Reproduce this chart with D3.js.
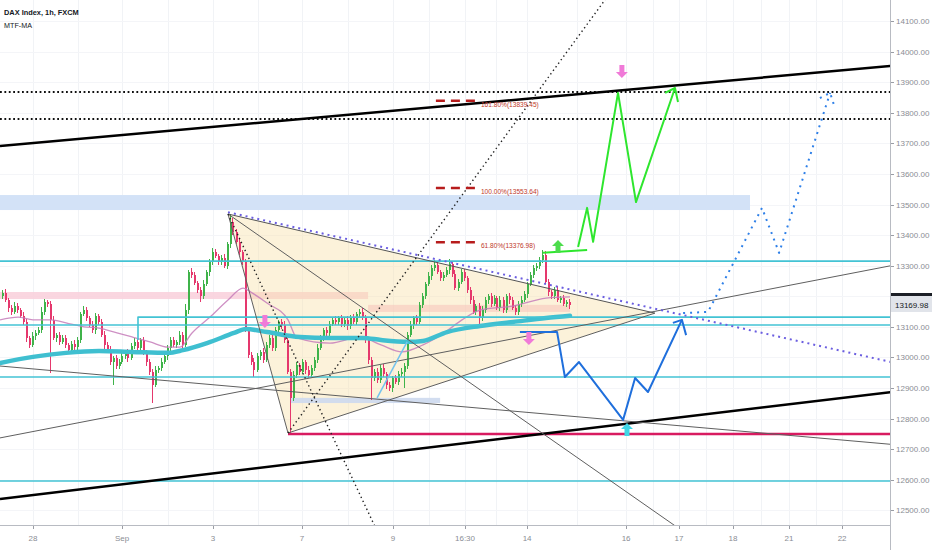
<!DOCTYPE html>
<html>
<head>
<meta charset="utf-8">
<script src="https://cdn.jsdelivr.net/npm/d3@7"></script>
<style>
body { margin: 0; background: #fff; }
text { font-family: "Liberation Sans", Arial, sans-serif; }
</style>
</head>
<body>
<div id="chart"></div>
<script>
// hourly candles, open = previous close
var firstOpen = 13201;
var closes = [13211,13188,13162,13149,13168,13155,13136,13116,13064,13041,
  13070,13080,13090,13149,13181,13175,13123,13064,13074,13051,
  13064,13041,13024,13044,13034,13057,13142,13155,13129,13106,
  13090,13136,13116,13074,13041,13024,12985,12998,12972,12985,
  13005,13018,12998,13038,13051,13031,13057,13018,12985,12953,
  12910,12959,12966,12985,13005,13031,13057,13041,13051,13074,
  13041,13155,13279,13270,13244,13221,13201,13240,13279,13312,
  13345,13332,13312,13325,13299,13371,13443,13410,13378,13345,
  13312,13090,13008,12985,12959,13005,13018,12992,13041,13064,
  13031,13090,13116,13106,13057,12953,12868,12943,12975,12953,
  12985,12959,12943,12966,12992,13031,13064,13090,13080,13109,
  13123,13116,13129,13109,13123,13103,13129,13116,13142,13149,
  13129,13057,12992,12933,12953,12926,12966,12946,12910,12900,
  12933,12920,12946,12953,12972,13074,13106,13129,13116,13172,
  13201,13240,13266,13293,13302,13279,13260,13270,13286,13306,
  13273,13227,13247,13279,13260,13221,13188,13149,13168,13129,
  13155,13188,13201,13175,13194,13162,13188,13155,13201,13188,
  13162,13149,13175,13188,13208,13240,13270,13293,13299,13319,
  13335,13247,13214,13201,13221,13188,13194,13175,13181,13170];
var wickUp = [8,12,6,10,14,9,7,11,10,6, 12,9,8,15,10,7,9,12,6,10,
  8,11,7,9,13,10,8,12,9,6, 14,10,7,9,11,8,12,6,10,9,
  13,7,10,8,12,9,6,11,8,10, 9,12,7,14,8,10,9,11,6,12,
  10,20,8,12,9,7,10,13,8,11, 12,9,7,10,14,8,26,12,9,10,
  7,11,8,9,12,10,7,13,9,8, 11,10,7,9,12,8,10,14,9,7,
  11,8,12,10,9,13,8,7,11,10, 9,12,8,10,7,11,9,13,8,10,
  12,9,7,10,8,11,9,12,7,10, 8,11,9,12,10,8,13,7,10,9,
  11,8,12,9,17,10,8,11,9,17, 10,12,8,9,11,7,10,13,8,9,
  12,10,8,11,9,7,12,10,8,9, 11,8,10,12,9,7,10,8,11,9,
  16,12,10,8,9,11,7,10,8,9];
var wickDn = [10,7,12,9,8,11,6,10,13,9, 8,12,7,10,9,11,174,8,12,10,
  7,9,11,8,10,12,9,7,11,8, 10,13,9,8,12,7,10,75,9,11,
  8,10,12,7,9,11,8,10,13,9, 59,8,11,10,7,12,9,8,10,11,
  9,8,12,10,7,11,20,9,8,12, 10,7,9,11,8,10,12,9,7,10,
  11,8,10,9,22,8,12,10,7,11, 9,10,8,12,9,7,115,10,9,11,
  8,12,10,7,9,11,8,10,12,9, 7,11,9,10,8,12,9,7,11,10,
  8,9,12,72,10,8,11,9,14,10, 12,8,9,11,53,10,8,12,9,7,
  11,10,8,12,9,7,10,11,8,12, 9,8,10,8,11,9,12,7,10,29,
  11,9,12,10,8,7,11,9,10,12, 8,10,9,11,7,12,8,10,9,11,
  10,8,12,9,11,7,10,8,9,10];
var lastPrice = 13169.98;

// moving averages [bar, price]
var maThick = [[0,12982],[11,13002],[22,13015],[33,13021],[44,13018],[56,13015],[61,13024],
  [69,13047],[78,13080],[82,13093],[89,13083],[100,13067],[110,13064],[121,13064],[127,13057],
  [136,13051],[141,13054],[149,13083],[160,13103],[171,13116],[182,13129],[190,13136]];
var maThin = [[0,13123],[6,13132],[11,13123],[17,13123],[22,13113],[28,13100],[33,13096],
  [39,13080],[44,13067],[50,13051],[56,13034],[60,13034],[64,13080],[70,13132],[76,13188],
  [81,13227],[84,13211],[89,13178],[96,13123],[99,13064],[110,13047],[120,13067],[127,13041],
  [134,13018],[141,13041],[148,13080],[154,13123],[160,13155],[171,13168],[182,13194],[190,13198]];

// axes
var timeTickBars = [11, 40.7, 71, 100.7, 131, 155, 175.7, 208.7, 226.3, 244.3, 263, 280.7];
var timeTickLabels = ["28", "Sep", "3", "7", "9", "16:30", "14", "16", "17", "18", "21", "22"];
var priceTicks = [12500,12600,12700,12800,12900,13000,13100,13200,13300,13400,13500,13600,13700,13800,13900,14000,14100];

// drawings [bar, price]
var trendUpper = [[0,13691],[297,13953]];
var trendLower = [[0,12537],[297,12887]];
var dottedLevels = [13868, 13780];
var dottedRayUp = [[96,12753],[203,14187]];
var dottedRayDown = [[76,13469],[126,12426]];
var grayLines = [[[76,13469],[226,12443]], [[0,12972],[297,12716]], [[0,12737],[297,13300]]];
var triangle = [[76,13469],[96,12753],[218.3,13145]];
var purpleDotted = [[76,13475],[297,12985]];
var cyanLevels = [13315, 13106, 12936, 12596];
var cyanPartial = [[46,13057],[46,13132],[297,13132]];
var redLevel = [[96,12750],[297,12750]];
var blueBand = [0, 250, 13482, 13531];
var pinkBand = [0, 122.7, 13191, 13214];
var salmonBand = [122.7, 190, 13149, 13172];
var greyBand = [96.7, 146.7, 12851, 12868];
var fibLevels = [13839.45, 13553.64, 13376.98];
var fibLabels = ["161.80%(13839.45)", "100.00%(13553.64)", "61.80%(13376.98)"];
var fibBars = [145.3, 159.3];
var lightBlueLeg = [[125.7,12868],[135.7,13051]];
var greenHold = [[181,13342],[195.7,13351]];
var greenPath = [[192.7,13361],[195.7,13489],[197.7,13378],[206,13865],[212,13508],[225,13881]];
var greenHead = [[221.7,13865],[225,13881],[226,13835]];
var bluePath = [[173.3,13083],[185.7,13083],[188.3,12936],[193,12985],[207.7,12796],[211.7,12933],[216,12887],[227.3,13123]];
var blueHead = [[224.3,13113],[227.3,13123],[228.7,13073]];
var blueDotted = [[227.7,13145],[236,13149],[254,13489],[259.7,13342],[276.7,13865]];
var blueDottedHead = [[273.3,13848],[276.7,13865],[278.3,13816]];
var arrowsDown = [[207.3,13914],[88.3,13096],[176.3,13041]];
var arrowsUp = [[186,13384],[209,12786]];

var svgWidth = 932;
var svgHeight = 550;
var plotW = 890;
var plotH = 525;

var svg = d3.select("#chart").append("svg")
  .attr("width", svgWidth)
  .attr("height", svgHeight);

var x = d3.scaleLinear().domain([0, 297]).range([0, 891]);
var y = d3.scaleLinear().domain([12500, 14100]).range([510.4, 21]);
var line = d3.line().x(d => x(d[0])).y(d => y(d[1]));

svg.append("clipPath").attr("id", "clip")
  .append("rect").attr("width", plotW).attr("height", plotH);

var plot = svg.append("g").attr("clip-path", "url(#clip)");

// grid
var gridBars = [];
timeTickBars.forEach(function(b, i) {
  gridBars.push(b);
  if (i < timeTickBars.length - 1) gridBars.push((b + timeTickBars[i + 1]) / 2);
});
plot.append("g").selectAll("line").data(gridBars).join("line")
  .attr("x1", d => Math.round(x(d)) + 0.5).attr("x2", d => Math.round(x(d)) + 0.5)
  .attr("y1", 0).attr("y2", plotH)
  .attr("stroke", "#f1f3f6");
plot.append("g").selectAll("line").data(priceTicks).join("line")
  .attr("x1", 0).attr("x2", plotW)
  .attr("y1", d => Math.round(y(d)) + 0.5).attr("y2", d => Math.round(y(d)) + 0.5)
  .attr("stroke", "#f4f5f8");

// bands
function band(b, color, op) {
  plot.append("rect")
    .attr("x", x(b[0])).attr("width", x(b[1]) - x(b[0]))
    .attr("y", y(b[3])).attr("height", y(b[2]) - y(b[3]))
    .attr("fill", color).attr("opacity", op);
}
band(blueBand, "#d3e2f7", 1);
band(pinkBand, "#f9cfda", 0.85);

// triangle
plot.append("path")
  .attr("d", line(triangle) + "Z")
  .attr("fill", "#f8dfa8").attr("opacity", 0.42);
band(salmonBand, "#f6c7bd", 0.6);
band(greyBand, "#cdd9ee", 0.9);

// candles
var candles = closes.map(function(c, i) {
  var o = i === 0 ? firstOpen : closes[i - 1];
  return { i: i, o: o, c: c, h: Math.max(o, c) + wickUp[i], l: Math.min(o, c) - wickDn[i] };
});
var up = "#3fb34a", down = "#e5386d";
var cg = plot.append("g").attr("shape-rendering", "crispEdges");
cg.selectAll("line").data(candles).join("line")
  .attr("x1", d => Math.round(x(d.i + 0.5)) + 0.5)
  .attr("x2", d => Math.round(x(d.i + 0.5)) + 0.5)
  .attr("y1", d => y(d.h)).attr("y2", d => y(d.l))
  .attr("stroke", d => d.c >= d.o ? up : down);
cg.selectAll("rect").data(candles).join("rect")
  .attr("x", d => Math.round(x(d.i + 0.5)) - 0.5)
  .attr("width", 2)
  .attr("y", d => y(Math.max(d.o, d.c)))
  .attr("height", d => Math.max(1, Math.abs(y(d.o) - y(d.c))))
  .attr("fill", d => d.c >= d.o ? up : down);

// moving averages
plot.append("path").datum(maThin)
  .attr("d", line.curve(d3.curveMonotoneX))
  .attr("fill", "none").attr("stroke", "#c57cba").attr("stroke-width", 1.3)
  .attr("opacity", 0.85);
plot.append("path").datum(maThick)
  .attr("d", line.curve(d3.curveMonotoneX))
  .attr("fill", "none").attr("stroke", "#3fbfd0").attr("stroke-width", 4.5)
  .attr("stroke-linecap", "round");
line.curve(d3.curveLinear);

function draw(pts, color, w, dash) {
  var p = plot.append("path").datum(pts).attr("d", line)
    .attr("fill", "none").attr("stroke", color).attr("stroke-width", w)
    .attr("stroke-linejoin", "round");
  if (dash) p.attr("stroke-dasharray", dash);
  return p;
}

// horizontal levels
cyanLevels.forEach(function(p) { draw([[0, p], [297, p]], "#43c3d4", 1.6); });
draw(cyanPartial, "#43c3d4", 1.6);
draw(redLevel, "#d81b60", 2.4);
dottedLevels.forEach(function(p) { draw([[0, p], [297, p]], "#111", 2, "1.8,2.6"); });

// trend lines
draw(trendUpper, "#000", 2.5);
draw(trendLower, "#000", 2.5);
grayLines.forEach(function(g) { draw(g, "#5f5f5f", 1); });
draw([triangle[0], triangle[1]], "#5f5f5f", 1);
draw([triangle[1], triangle[2]], "#5f5f5f", 1);
draw([triangle[0], triangle[2]], "#555", 1);
draw(purpleDotted, "#6b5ee0", 2, "2,4");
draw(dottedRayUp, "#222", 1.4, "1.4,3");
draw(dottedRayDown, "#222", 1.4, "1.4,3");
draw(lightBlueLeg, "#73c3ee", 1.5);

// fibonacci
fibLevels.forEach(function(p, i) {
  draw([[fibBars[0], p], [fibBars[1], p]], "#b71c1c", 2.5, "9,6");
  plot.append("text")
    .attr("x", x(fibBars[1]) + 3).attr("y", y(p) + 6)
    .attr("font-size", "6.6px").attr("fill", "#c0392b")
    .text(fibLabels[i]);
});

// projections
draw(greenHold, "#2ee62e", 2);
draw(greenPath, "#2ee62e", 2);
draw(greenHead, "#2ee62e", 2);
draw(bluePath, "#1f6fdc", 2);
draw(blueHead, "#1f6fdc", 2);
draw(blueDotted, "#2f80e8", 2, "2,5");
draw(blueDottedHead, "#2f80e8", 2, "2,5");

// block arrows
var downShape = "M0,0 L-6,-6 L-2.5,-6 L-2.5,-13 L2.5,-13 L2.5,-6 L6,-6 Z";
var upShape = "M0,0 L-6,6 L-2.5,6 L-2.5,13 L2.5,13 L2.5,6 L6,6 Z";
plot.selectAll(".adown").data(arrowsDown).join("path")
  .attr("transform", d => `translate(${x(d[0])},${y(d[1])})`)
  .attr("d", downShape).attr("fill", "#f07ad8");
plot.selectAll(".aup").data(arrowsUp).join("path")
  .attr("transform", d => `translate(${x(d[0])},${y(d[1])})`)
  .attr("d", upShape).attr("fill", (d, i) => i === 0 ? "#4cdc4c" : "#3fd6e6");

// price axis
var axisG = svg.append("g");
axisG.append("line").attr("x1", 890.5).attr("x2", 890.5).attr("y1", 0).attr("y2", svgHeight)
  .attr("stroke", "#b8bbc2");
axisG.selectAll(".pt").data(priceTicks).join("line")
  .attr("x1", 891).attr("x2", 894)
  .attr("y1", d => Math.round(y(d)) + 0.5).attr("y2", d => Math.round(y(d)) + 0.5)
  .attr("stroke", "#9a9da5");
axisG.selectAll(".pl").data(priceTicks).join("text")
  .attr("x", 896).attr("y", d => y(d) + 3)
  .attr("font-size", "8px").attr("fill", "#8a8d94")
  .text(d => d3.format(".2f")(d));
axisG.append("rect").attr("x", 891).attr("y", 293).attr("width", 41).attr("height", 3).attr("fill", "#1c1f26");
axisG.append("rect").attr("x", 891).attr("y", 296).attr("width", 41).attr("height", 16).attr("fill", "#e1e4ea");
axisG.append("text").attr("x", 895).attr("y", y(lastPrice) + 3)
  .attr("font-size", "8px").attr("fill", "#131722")
  .text(d3.format(".2f")(lastPrice));

// time axis
var tg = svg.append("g");
tg.append("line").attr("x1", 0).attr("x2", 890).attr("y1", 525.5).attr("y2", 525.5)
  .attr("stroke", "#b8bbc2");
tg.selectAll(".tt").data(timeTickBars).join("line")
  .attr("x1", d => Math.round(x(d)) + 0.5).attr("x2", d => Math.round(x(d)) + 0.5)
  .attr("y1", 526).attr("y2", 529).attr("stroke", "#9a9da5");
tg.selectAll(".tl").data(timeTickBars).join("text")
  .attr("x", d => x(d)).attr("y", 541)
  .attr("text-anchor", "middle")
  .attr("font-size", "8px").attr("fill", "#8a8d94")
  .text((d, i) => timeTickLabels[i]);

// legend
svg.append("text").attr("x", 4).attr("y", 15)
  .attr("font-size", "7.4px").attr("font-weight", "bold").attr("fill", "#131722")
  .text("DAX Index, 1h, FXCM");
svg.append("text").attr("x", 4).attr("y", 28)
  .attr("font-size", "7.2px").attr("fill", "#131722")
  .text("MTF-MA");
</script>
</body>
</html>
